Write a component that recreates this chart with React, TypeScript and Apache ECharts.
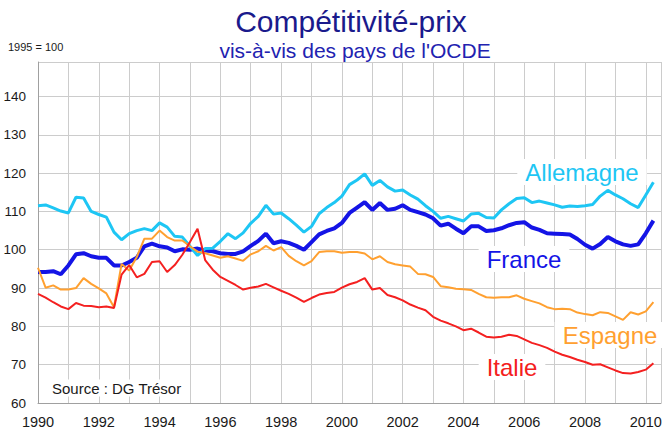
import React, { useEffect, useRef } from "react";
import * as echarts from "echarts";

const startYear = 1990;
const quarters: number[] = Array.from({ length: 82 }, (_, i) => startYear + i / 4);

const allemagne = [
  111.5, 111.7, 110.9, 110.1,
  109.6, 113.7, 113.5, 110.0,
  109.2, 108.5, 104.6, 102.6,
  104.2, 105.0, 105.5, 105.0,
  107.0, 105.9, 103.5, 103.3,
  100.9, 98.5, 100.3, 100.4,
  102.2, 104.2, 102.9, 104.4,
  106.9, 108.7, 111.6, 109.3,
  109.6, 108.1, 106.4, 104.6,
  106.1, 109.4, 111.0, 112.3,
  114.0, 117.0, 118.2, 119.8,
  116.8, 118.1, 116.4, 115.3,
  115.6, 114.3, 113.2, 111.5,
  110.0, 108.2, 108.7, 108.1,
  107.5, 109.3, 109.5, 108.4,
  108.3, 110.4, 112.0, 113.4,
  113.6, 112.3, 112.7, 112.2,
  111.7, 111.1, 111.4, 111.3,
  111.5, 111.8, 114.0, 115.5,
  114.3, 113.3, 112.0, 111.0,
  114.3, 117.6,
];

const france = [
  94.2, 94.2, 94.4, 93.6,
  95.9, 98.8, 99.1, 98.3,
  97.9, 97.9, 95.9, 95.9,
  96.8, 97.9, 100.9, 101.6,
  100.9, 100.6, 99.6, 100.1,
  100.0, 100.3, 99.8, 99.6,
  99.1, 98.9, 98.9, 99.6,
  101.0, 102.3, 104.2, 101.7,
  102.2, 101.8, 101.0, 100.0,
  102.0, 104.0, 104.9, 105.6,
  107.0, 109.6, 111.0, 112.4,
  110.4, 112.2, 110.4, 110.7,
  111.6, 110.4, 109.8, 109.2,
  108.2, 106.3, 106.8, 105.5,
  104.3, 106.1, 106.1, 104.9,
  105.1, 105.6, 106.4, 107.0,
  107.2, 105.8, 105.2, 104.3,
  104.2, 104.1, 104.0, 102.8,
  101.3, 100.3, 101.5, 103.3,
  102.2, 101.4, 101.0, 101.4,
  104.3, 107.6,
];

const espagne = [
  95.3, 90.1, 90.7, 89.6,
  89.6, 90.0, 92.6, 91.1,
  89.9, 88.6, 85.0, 96.3,
  94.6, 98.1, 102.9, 102.9,
  105.0, 103.3, 102.4, 102.4,
  100.9, 99.5, 99.1, 98.5,
  97.9, 98.3, 97.7, 97.1,
  98.8, 99.6, 101.0, 99.8,
  100.7, 98.4, 97.0, 95.9,
  97.0, 99.4, 99.6, 99.6,
  99.2, 99.4, 99.4, 99.0,
  97.5, 98.3, 96.8, 96.2,
  95.9, 95.6, 93.7, 93.6,
  92.9, 90.5, 90.2, 89.8,
  89.7, 89.5, 88.5, 87.6,
  87.5, 87.6, 87.6, 88.1,
  87.2, 86.6, 86.0, 85.0,
  84.5, 84.6, 84.5, 83.6,
  83.2, 82.9, 83.7, 83.5,
  82.6, 81.7, 83.7, 83.1,
  83.9, 86.3,
];

const italie = [
  88.5, 87.5, 86.3, 85.2,
  84.5, 86.1, 85.4, 85.3,
  85.0, 85.2, 84.8, 93.5,
  96.0, 92.8, 93.7, 96.8,
  97.0, 94.2, 96.0, 98.7,
  102.0, 105.5, 97.3, 94.8,
  92.9, 91.9, 90.8, 89.6,
  90.1, 90.4, 91.1, 90.2,
  89.3, 88.5, 87.5, 86.4,
  87.4, 88.3, 88.7, 89.0,
  90.1, 91.0, 91.6, 92.6,
  89.6, 90.0, 88.2, 87.6,
  86.8, 85.7, 84.9, 84.2,
  82.5, 81.5, 80.8, 80.0,
  79.0, 79.4, 78.4, 77.3,
  77.1, 77.3, 77.8, 77.5,
  76.6, 75.7, 75.1, 74.4,
  73.4, 72.6, 72.0, 71.3,
  70.7, 70.0, 70.1, 69.3,
  68.5, 67.8, 67.7, 68.1,
  68.7, 70.4,
];

const FONT = "'Liberation Sans', Arial, sans-serif";

const pairs = (vals: number[]) => vals.map((v, i) => [quarters[i], v]);

export default function App() {
  const ref = useRef<HTMLDivElement>(null);
  useEffect(() => {
    if (!ref.current) return;
    const chart = echarts.init(ref.current, undefined, { renderer: "svg" });
    const labelText = (text: string, x: number, y: number, color: string, size: number, align = "center") => ({
      type: "text",
      x,
      y,
      z: 100,
      style: {
        text,
        fill: color,
        font: `${size}px ${FONT}`,
        textAlign: align,
        textVerticalAlign: "middle",
        backgroundColor: "#ffffff",
        padding: [1, 8, 1, 8],
      },
    });
    chart.setOption({
      animation: false,
      backgroundColor: "#ffffff",
      grid: { left: 38, right: 5, top: 62, bottom: 28, containLabel: false },
      xAxis: {
        type: "value",
        min: 1990,
        max: 2010.5,
        interval: 1,
        axisLine: { show: true, lineStyle: { color: "#a0a0a0", width: 1 } },
        axisTick: { show: false },
        splitLine: { show: true, lineStyle: { color: "#cccccc", width: 1 } },
        axisLabel: {
          showMaxLabel: false,
          margin: 11,
          fontSize: 14.5,
          fontFamily: FONT,
          color: "#1a1a1a",
          formatter: (v: number) => (v % 2 === 0 ? String(v) : ""),
        },
      },
      yAxis: {
        type: "value",
        min: 60,
        max: 149,
        interval: 10,
        axisLine: { show: true, lineStyle: { color: "#a0a0a0", width: 1 } },
        axisTick: { show: false },
        splitLine: { show: true, lineStyle: { color: "#cccccc", width: 1 } },
        axisLabel: {
          showMaxLabel: false,
          margin: 12,
          fontSize: 13.5,
          fontFamily: FONT,
          color: "#1a1a1a",
        },
      },
      series: [
        { name: "France", type: "line", data: pairs(france), showSymbol: false, lineStyle: { color: "#1414e6", width: 4 }, z: 2 },
        { name: "Allemagne", type: "line", data: pairs(allemagne), showSymbol: false, lineStyle: { color: "#1ec6f4", width: 3 }, z: 3 },
        { name: "Espagne", type: "line", data: pairs(espagne), showSymbol: false, lineStyle: { color: "#ffa030", width: 2 }, z: 4 },
        { name: "Italie", type: "line", data: pairs(italie), showSymbol: false, lineStyle: { color: "#f42020", width: 2 }, z: 5 },
      ],
      graphic: [
        { type: "text", x: 351, y: 21, style: { text: "Compétitivité-prix", fill: "#1a1a8c", font: `30px ${FONT}`, textAlign: "center", textVerticalAlign: "middle" } },
        { type: "text", x: 355, y: 50, style: { text: "vis-à-vis des pays de l'OCDE", fill: "#2222b0", font: `21px ${FONT}`, textAlign: "center", textVerticalAlign: "middle" } },
        { type: "text", x: 8, y: 47, style: { text: "1995 = 100", fill: "#1a1a1a", font: `11px ${FONT}`, textAlign: "left", textVerticalAlign: "middle" } },
        labelText("Allemagne", 582, 172, "#1ec6f4", 24),
        labelText("France", 524, 259, "#1414e6", 24),
        labelText("Espagne", 610, 335, "#ffa030", 24),
        labelText("Italie", 512, 367, "#f42020", 24),
        labelText("Source : DG Trésor", 44, 388, "#1a1a1a", 15, "left"),
      ],
    });
    return () => chart.dispose();
  }, []);
  return <div ref={ref} style={{ position: "absolute", left: 0, top: 0, width: 666, height: 431 }} />;
}
